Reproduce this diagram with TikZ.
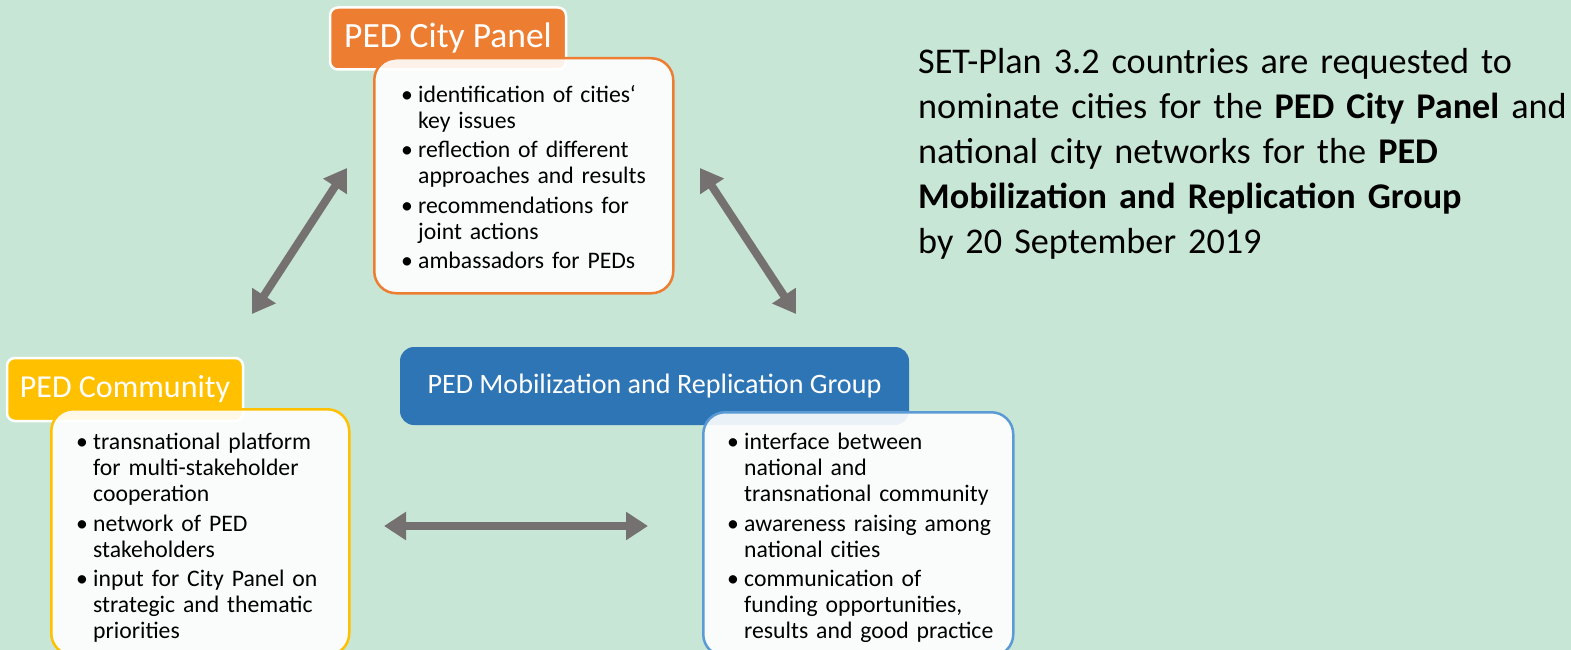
\documentclass[tikz,border=0pt]{standalone}
\usepackage{fontspec}
\setmainfont{Carlito}
\usepackage{xcolor}
\usetikzlibrary{arrows.meta}
\definecolor{mintbg}{HTML}{C8E6D5}
\definecolor{panelorange}{HTML}{ED7D31}
\definecolor{communitygold}{HTML}{FFC000}
\definecolor{groupblue}{HTML}{2E75B6}
\definecolor{groupline}{HTML}{5B9BD5}
\definecolor{arrowgray}{HTML}{767171}
\newcommand{\bitem}[1]{\hangindent=17pt\hangafter=1\noindent\makebox[17pt][l]{\textbullet}#1\par}
\tikzset{%
  tipG/.tip={Triangle[length=22pt,width=27pt]},
  headbox/.style={rounded corners=8pt, draw=white, line width=2.5pt, text=white, inner sep=0pt},
  bodybox/.style={rounded corners=22pt, fill=white, fill opacity=0.9, line width=2.5pt, inner sep=0pt, anchor=north west},
  bultext/.style={anchor=north west, inner sep=0pt, text width=275pt, align=left,
    font=\fontsize{23.7}{26}\selectfont, execute at begin node=\setlength{\parskip}{3.5pt}},
  arrowline/.style={draw=arrowgray, line width=8pt}
}

\begin{document}
\begin{tikzpicture}[x=1pt,y=-1pt]

\fill[mintbg] (0,0) rectangle (1571,650);
\useasboundingbox (0,0) rectangle (1571,650);

% PED City Panel
\node[headbox, fill=panelorange, minimum width=236pt, minimum height=62pt, font=\fontsize{35.5}{40}\selectfont] (cphead) at (448,38.5) {PED City Panel};
\node[bodybox, draw=panelorange, minimum width=299pt, minimum height=235pt] (cpbody) at (373,57) {};
\node[bultext] (cptext) at (401,85) {%
\bitem{identification of cities‘\newline key issues}
\bitem{reflection of different\newline approaches and results}
\bitem{recommendations for\newline joint actions}
\bitem{ambassadors for PEDs}};

% PED Community
\node[headbox, fill=communitygold, minimum width=236pt, minimum height=63pt, font=\fontsize{32}{38}\selectfont] (comhead) at (125,389.5) {PED Community};
\node[bodybox, draw=communitygold, minimum width=298pt, minimum height=246pt] (combody) at (50,408) {};
\node[bultext] (comtext) at (76,433) {%
\bitem{transnational platform\newline for multi-stakeholder\newline cooperation}
\bitem{network of PED\newline stakeholders}
\bitem{input for City Panel on\newline strategic and thematic\newline priorities}};

% PED Mobilization and Replication Group
\node[rounded corners=14pt, fill=groupblue, text=white, minimum width=509pt, minimum height=78pt, inner sep=0pt, font=\fontsize{28.1}{33}\selectfont] (grphead) at (654.5,386) {PED Mobilization and Replication Group};
\node[bodybox, draw=groupline, minimum width=310pt, minimum height=244pt] (grpbody) at (702,411) {};
\node[bultext] (grptext) at (727,433) {%
\bitem{interface between\newline national and\newline transnational community}
\bitem{awareness raising among\newline national cities}
\bitem{communication of\newline funding opportunities,\newline results and good practice}};

% call for nominations
\node[anchor=north west, inner sep=0pt, text width=700pt, align=left, font=\fontsize{36.2}{45}\selectfont] (callnote) at (918,48) {%
SET-Plan 3.2 countries are requested to\\
nominate cities for the \textbf{PED City Panel} and\\
national city networks for the \textbf{PED}\\
\textbf{Mobilization and Replication Group}\\
by 20 September 2019};

% arrows
\coordinate (leftlow) at (252,314);
\coordinate (lefthigh) at (347,168);
\coordinate (righthigh) at (700,168);
\coordinate (rightlow) at (796,314);
\coordinate (midleft) at (384,526);
\coordinate (midright) at (648,526);
\draw[arrowline, tipG-tipG] (leftlow) -- (lefthigh);
\draw[arrowline, tipG-tipG] (righthigh) -- (rightlow);
\draw[arrowline, tipG-tipG] (midleft) -- (midright);
\end{tikzpicture}
\end{document}
